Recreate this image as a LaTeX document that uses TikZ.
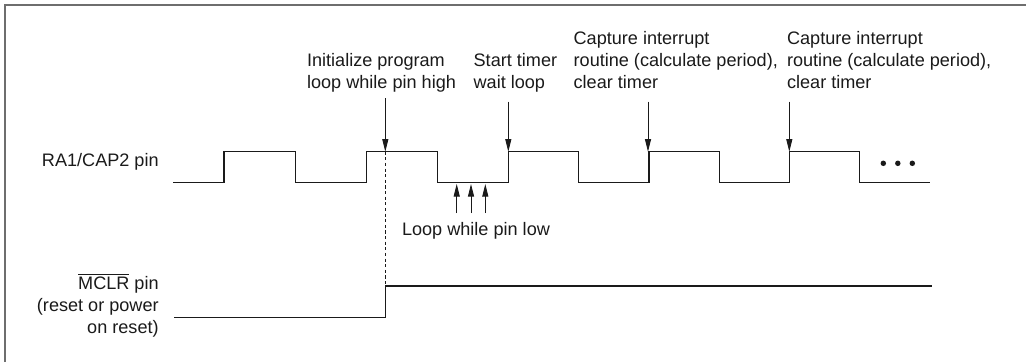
\documentclass[tikz,border=0pt]{standalone}
\usepackage{fontspec}
\setmainfont{Liberation Sans}
\usetikzlibrary{arrows.meta,positioning,calc}
\definecolor{Ink}{HTML}{1A1A1A}
\definecolor{Frame}{HTML}{6E6E6E}

\begin{document}
\begin{tikzpicture}[x=0.02cm,y=-0.02cm,
  lbl/.style={font=\fontsize{10.3}{12.4}\selectfont,inner sep=0pt,text=Ink},
  wave/.style={Ink,line width=0.6pt,line join=miter},
  cue/.style={-{Triangle[length=0.25cm,width=0.12cm]},Ink,line width=0.5pt}]
\useasboundingbox (0,0) rectangle (1026,362);
\draw[Frame,line width=0.6pt] (5,362) -- (5,5) -- (1026,5);
% signal names
\node[lbl,anchor=base east] (lblRA) at (159,166.5) {RA1/CAP2 pin};
\node[lbl,anchor=base east,align=right] (lblMCLR) at (159,333.3) {$\overline{\hbox{MCLR}}$ pin\\(reset or power\\on reset)};
% RA1/CAP2 waveform
\draw[wave] (173.3,182.3) -- (224,182.3) -- (224,151.7) -- (295.3,151.7) -- (295.3,182.3)
  -- (366.7,182.3) -- (366.7,151.7) -- (437.3,151.7) -- (437.3,182.3)
  -- (508.3,182.3) -- (508.3,151.7) -- (578.5,151.7) -- (578.5,182.3)
  -- (649,182.3) -- (649,151.7) -- (719.3,151.7) -- (719.3,182.3)
  -- (789.5,182.3) -- (789.5,151.7) -- (859.7,151.7) -- (859.7,182.3) -- (930,182.3);
\fill[Ink] (883.3,163.3) circle (0.055cm);
\fill[Ink] (897.8,163.3) circle (0.055cm);
\fill[Ink] (912.3,163.3) circle (0.055cm);
% MCLR waveform
\draw[wave] (174.3,317.3) -- (385.3,317.3) -- (385.3,286) -- (932.3,286);
\draw[Ink,line width=0.5pt,dash pattern=on 1.8pt off 1.4pt] (385.3,151.7) -- (385.3,286);
% event labels
\node[lbl,anchor=base west,align=left] (lblInit) at (306.7,88.3) {Initialize program\\loop while pin high};
\node[lbl,anchor=base west,align=left] (lblStart) at (473.3,88.3) {Start timer\\wait loop};
\node[lbl,anchor=base west,align=left] (lblCapA) at (573.3,88.3) {Capture interrupt\\routine (calculate period),\\clear timer};
\node[lbl,anchor=base west,align=left] (lblCapB) at (786.7,88.3) {Capture interrupt\\routine (calculate period),\\clear timer};
\node[lbl,anchor=base west] (lblLow) at (401.7,235) {Loop while pin low};
% arrow ends
\coordinate (initTop) at (385.3,98.3);
\coordinate (initTip) at (385.3,151.7);
\coordinate (startTop) at (508.3,101.7);
\coordinate (startTip) at (508.3,151.7);
\coordinate (capATop) at (648,101.7);
\coordinate (capATip) at (648,151.7);
\coordinate (capBTop) at (789.3,101.7);
\coordinate (capBTip) at (789.3,151.7);
\draw[cue] (initTop) -- (initTip);
\draw[cue] (startTop) -- (startTip);
\draw[cue] (capATop) -- (capATip);
\draw[cue] (capBTop) -- (capBTip);
\coordinate (lowA) at (456.7,213);
\coordinate (lowB) at (471,213);
\coordinate (lowC) at (485.3,213);
\coordinate (lowATip) at (456.7,184);
\coordinate (lowBTip) at (471,184);
\coordinate (lowCTip) at (485.3,184);
\draw[cue] (lowA) -- (lowATip);
\draw[cue] (lowB) -- (lowBTip);
\draw[cue] (lowC) -- (lowCTip);
\end{tikzpicture}
\end{document}
